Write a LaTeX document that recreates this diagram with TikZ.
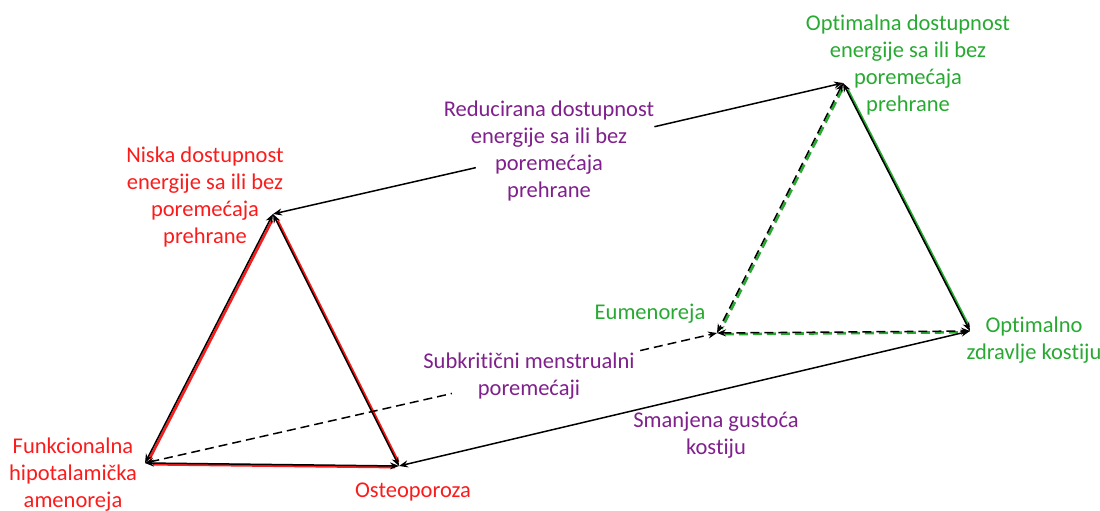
\documentclass[tikz,border=0pt]{standalone}
\usepackage{fontspec}
\setmainfont{Carlito}[Ligatures = NoCommon]
\usetikzlibrary{arrows.meta}

\definecolor{crvena}{RGB}{250,28,28}
\definecolor{ljubicasta}{RGB}{128,32,140}
\definecolor{zelena}{RGB}{40,170,50}

\begin{document}
\begin{tikzpicture}[x = 1pt, y = -1pt, > = {Stealth[length = 9pt, width = 7pt]},
	lbl/.style = {align = center, font = \fontsize{22.5}{27}\selectfont, inner sep = 0pt},
	strana/.style = {<->, line width = 1.5pt},
	crtano/.style = {dash pattern = on 9pt off 5pt},
	sjena/.style = {line width = 2.6pt, shorten < = 6pt, shorten > = 6pt,
		transform canvas = {xshift = 1.8pt, yshift = -1.2pt}}]

	\useasboundingbox (0, 0) rectangle (1100, 511);

	% Corners of the two triangles

	\coordinate (niska) at (273, 214);
	\coordinate (fha)   at (145, 463);
	\coordinate (osteo) at (399, 466);
	\coordinate (opt)   at (843, 83);
	\coordinate (eum)   at (717, 333);
	\coordinate (zdr)   at (970, 331);

	% Labels

	\node [lbl, text = crvena] (niskaLbl) at (205, 197) {Niska dostupnost\\energije sa ili bez\\poremećaja\\prehrane};
	\node [lbl, text = crvena] (fhaLbl) at (73, 475) {Funkcionalna\\hipotalamička\\amenoreja};
	\node [lbl, text = crvena] (osteoLbl) at (413, 492) {Osteoporoza};
	\node [lbl, text = ljubicasta] (reduc) at (549, 151) {Reducirana dostupnost\\energije sa ili bez\\poremećaja\\prehrane};
	\node [lbl, text = ljubicasta] (subkr) at (529, 376) {Subkritični menstrualni\\poremećaji};
	\node [lbl, text = ljubicasta] (smanj) at (716, 435) {Smanjena gustoća\\kostiju};
	\node [lbl, text = zelena] (optLbl) at (908, 65) {Optimalna dostupnost\\energije sa ili bez\\poremećaja\\prehrane};
	\node [lbl, text = zelena] (eumLbl) at (650, 314) {Eumenoreja};
	\node [lbl, text = zelena] (zdrLbl) at (1034, 340) {Optimalno\\zdravlje kostiju};

	% Coloured shadows under the triangle sides

	\draw [sjena, crvena] (niska) -- (fha);
	\draw [sjena, crvena] (niska) -- (osteo);
	\draw [sjena, crvena] (fha) -- (osteo);
	\draw [sjena, zelena, crtano] (opt) -- (eum);
	\draw [sjena, zelena] (opt) -- (zdr);
	\draw [sjena, zelena, crtano] (eum) -- (zdr);

	% Triangle sides

	\draw [strana] (niska) -- (fha);
	\draw [strana] (niska) -- (osteo);
	\draw [strana] (fha) -- (osteo);
	\draw [strana, crtano] (opt) -- (eum);
	\draw [strana] (opt) -- (zdr);
	\draw [strana, crtano] (eum) -- (zdr);

	% Connectors between the triangles

	\draw [<-, line width = 1.5pt, shorten > = -33pt] (niska) -- (reduc);
	\draw [->, line width = 1.5pt] (reduc) -- (opt);
	\draw [<-, line width = 1.5pt, crtano, shorten > = -27pt] (fha) -- (subkr);
	\draw [->, line width = 1.5pt, crtano, shorten < = 9pt] (subkr) -- (eum);
	\draw [<->, line width = 1.5pt] (osteo) -- (zdr);

\end{tikzpicture}
\end{document}
